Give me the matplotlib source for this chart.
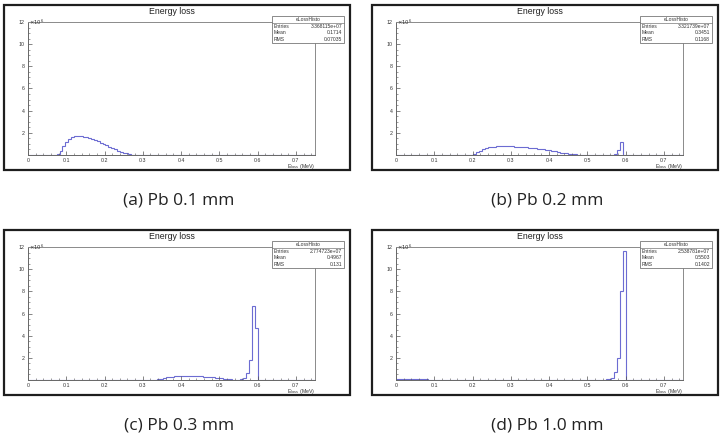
import numpy as np
import matplotlib
matplotlib.use("Agg")
import matplotlib.pyplot as plt
from matplotlib.patches import Rectangle
from matplotlib.lines import Line2D

# figure size in pixels
W, H = 727, 436

# histogram binning: 100 bins from 0 to 0.75 MeV
n_bins = 100
x_max = 0.75

# counts per bin (units of 1e6), given as first bin index + values
a_first = 10
a_counts = [0.05, 0.40, 0.80, 1.15, 1.40, 1.58, 1.68, 1.72, 1.70, 1.66, 1.60, 1.52, 1.43, 1.33,
            1.22, 1.10, 0.98, 0.86, 0.74, 0.62, 0.51, 0.40, 0.30, 0.21, 0.14, 0.08, 0.04, 0.02]

b_first = 27
b_counts = [0.10, 0.25, 0.38, 0.50, 0.60, 0.68, 0.73, 0.76, 0.78, 0.80, 0.80, 0.80, 0.79, 0.78,
            0.76, 0.74, 0.72, 0.70, 0.68, 0.66, 0.63, 0.60, 0.57, 0.54, 0.51, 0.47, 0.42, 0.37,
            0.32, 0.27, 0.22, 0.18, 0.14, 0.10, 0.07, 0.05, 0.03, 0.02, 0.01]
b_peak_first = 76
b_peak_counts = [0.05, 0.45, 1.15]

c_first = 44
c_counts = [0.03, 0.08, 0.13, 0.18, 0.23, 0.27, 0.30, 0.33, 0.35, 0.37, 0.38, 0.38, 0.38, 0.37,
            0.36, 0.35, 0.33, 0.31, 0.29, 0.27, 0.24, 0.21, 0.18, 0.15, 0.12, 0.09, 0.06, 0.04,
            0.03, 0.02, 0.05, 0.15, 0.60, 1.80, 6.70, 4.70]

d_low_first = 0
d_low_counts = [0.12, 0.13, 0.12, 0.12, 0.11, 0.10, 0.09, 0.08, 0.07, 0.06, 0.05, 0.04, 0.03, 0.02]
d_peak_first = 72
d_peak_counts = [0.02, 0.05, 0.10, 0.18, 0.70, 2.00, 8.00, 11.60]

# stats boxes
entries = ["3.368115e+07", "3.321739e+07", "2.774723e+07", "2.538781e+07"]
means = ["0.1714", "0.3451", "0.4967", "0.5503"]
rms = ["0.07035", "0.1168", "0.131", "0.1402"]
captions = ["(a) Pb 0.1 mm", "(b) Pb 0.2 mm", "(c) Pb 0.3 mm", "(d) Pb 1.0 mm"]


def fill(*segments):
    h = np.zeros(n_bins)
    for first, vals in segments:
        h[first:first + len(vals)] = vals
    return h


hists = [
    fill((a_first, a_counts)),
    fill((b_first, b_counts), (b_peak_first, b_peak_counts)),
    fill((c_first, c_counts)),
    fill((d_low_first, d_low_counts), (d_peak_first, d_peak_counts)),
]
edges = np.linspace(0, x_max, n_bins + 1)

plt.rcParams['font.family'] = ['Liberation Sans', 'DejaVu Sans']
fig = plt.figure(figsize=(W / 100, H / 100), dpi=100)


def fx(px):
    return px / W


def fy(py):
    return 1 - py / H


# top-left pixel of each panel frame
origins = [(4, 5), (372, 5), (4, 230), (372, 230)]
line_col = '#6c6cd2'
axis_col = '#8a8a8a'

for i, (ox, oy) in enumerate(origins):
    # screenshot frame
    fig.add_artist(Rectangle((fx(ox), fy(oy + 165)), 346 / W, 165 / H, transform=fig.transFigure,
                             fill=False, ec='#1e1e1e', lw=1.6))

    ax_l, ax_t, ax_r, ax_b = ox + 24, oy + 17, ox + 311, oy + 150
    ax = fig.add_axes([fx(ax_l), fy(ax_b), (ax_r - ax_l) / W, (ax_b - ax_t) / H])
    ax.stairs(hists[i], edges, color=line_col, lw=0.8)
    ax.set_xlim(0, x_max)
    ax.set_ylim(0, 12)
    ax.set_xticks(np.arange(0, 0.71, 0.1))
    ax.set_xticklabels(["0", "0.1", "0.2", "0.3", "0.4", "0.5", "0.6", "0.7"])
    ax.set_xticks(np.arange(0, 0.75, 0.02), minor=True)
    ax.set_yticks(np.arange(2, 13, 2))
    ax.set_yticklabels(["2", "4", "6", "8", "10", "12"])
    ax.set_yticks(np.arange(0, 12.01, 0.5), minor=True)
    ax.tick_params(which='major', direction='in', length=3.2, width=0.5, color='#555555',
                   labelsize=3.8, pad=2.5, labelcolor='#333333')
    ax.tick_params(which='minor', direction='in', length=1.6, width=0.4, color='#555555')
    for s in ax.spines.values():
        s.set_color(axis_col)
        s.set_linewidth(0.7)
    ax.spines['left'].set_color('#666666')
    ax.spines['bottom'].set_color('#666666')

    ax.text(0.004, 0.998, r'$\times10^{6}$', transform=ax.transAxes, fontsize=3.8,
            color='#333333', ha='left', va='center')
    ax.text(1.0, -0.055, r'E$_{\rm loss}$ (MeV)', transform=ax.transAxes, fontsize=3.8,
            color='#333333', ha='right', va='top')

    # title
    fig.text(fx((ax_l + ax_r) / 2), fy(oy + 6), "Energy loss", fontsize=6.3,
             ha='center', va='center', color='#222222')

    # stats box
    sx0, sx1 = ox + 268, ox + 340
    sy0, sy1 = oy + 11, oy + 38
    row = (sy1 - sy0) / 4
    fig.add_artist(Rectangle((fx(sx0), fy(sy1)), (sx1 - sx0) / W, (sy1 - sy0) / H,
                             transform=fig.transFigure, fc='white', ec='#777777', lw=0.6))
    fig.add_artist(Line2D([fx(sx0), fx(sx1)], [fy(sy0 + row), fy(sy0 + row)],
                          transform=fig.transFigure, color='#777777', lw=0.5))
    fig.text(fx((sx0 + sx1) / 2), fy(sy0 + row / 2), "eLossHisto", fontsize=3.6,
             ha='center', va='center', color='#333333')
    for j, (lab, val) in enumerate([("Entries", entries[i]), ("Mean", means[i]), ("RMS", rms[i])]):
        yy = fy(sy0 + row * (j + 1.5))
        fig.text(fx(sx0 + 2), yy, lab, fontsize=3.6, ha='left', va='center', color='#333333')
        fig.text(fx(sx1 - 2), yy, val, fontsize=3.6, ha='right', va='center', color='#333333')

    # caption
    fig.text(fx(ox + 175), fy(oy + 195), captions[i], fontsize=12.5, family='Open Sans',
             ha='center', va='center', color='#222222')

fig.savefig("out.png", dpi=100)
